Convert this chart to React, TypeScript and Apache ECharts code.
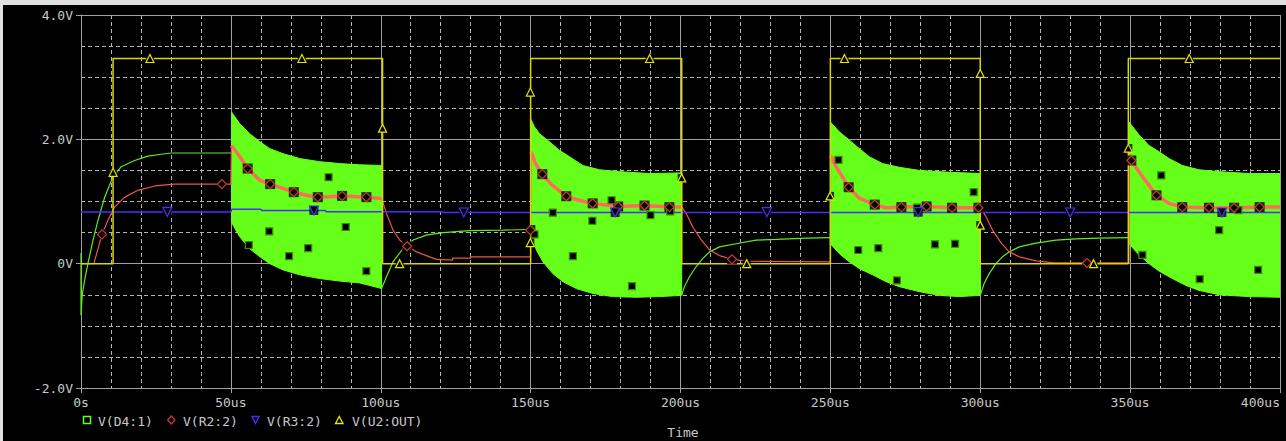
import React, { useEffect, useRef } from 'react';
import * as echarts from 'echarts';

// ---------- tick labels ----------
const xTickLabels = ['0s', '50us', '100us', '150us', '200us', '250us', '300us', '350us', '400us'];
const yTickValues = [-2, 0, 2, 4];
const yTickLabels = ['-2.0V', '0V', '2.0V', '4.0V'];
const legendNames = ['V(D4:1)', 'V(R2:2)', 'V(R3:2)', 'V(U2:OUT)'];

// ---------- V(U2:OUT) ----------
const u2Out: number[][] = [
  [0, 0], [10.7, 0], [10.7, 3.3], [100.6, 3.3], [100.6, 0], [150, 0], [150, 3.3], [200.4, 3.3],
  [200.4, 0], [250, 0], [250, 3.3], [300, 3.3], [300, 0], [349.4, 0], [349.4, 3.3], [400, 3.3],
];
const u2Marks: number[][] = [
  [10.7, 1.47], [23, 3.3], [73.7, 3.3], [100.6, 2.18], [106.3, 0], [149.9, 2.76], [149.9, 0.34],
  [189.7, 3.3], [200.4, 1.38], [222.1, 0], [249.9, 1.09], [254.7, 3.3], [300, 3.06], [300, 0.62],
  [337.8, 0], [349.4, 1.86], [369.7, 3.3],
];

// ---------- V(R3:2) ----------
const r3: number[][] = [
  [0, 0.833], [50, 0.833], [50.3, 0.876], [60, 0.876], [60.3, 0.855], [81.5, 0.855], [81.8, 0.836],
  [120.5, 0.836], [120.8, 0.823], [400, 0.823],
];
const r3Marks: number[][] = [
  [28.8, 0.833], [77.7, 0.855], [127.7, 0.823], [178.2, 0.823], [228.8, 0.828], [279.3, 0.828],
  [330, 0.823], [380.6, 0.823],
];

// ---------- V(R2:2) ----------
const r2Rise1: number[][] = [
  [0, 0], [4.3, 0], [7, 0.47], [9, 0.7], [11.2, 0.91], [14.6, 1.07], [19, 1.18], [24.6, 1.25],
  [31.2, 1.28], [50, 1.28], [50.2, 1.9],
];
const r2Band1: number[][] = [
  [50.2, 1.9], [53, 1.72], [55.6, 1.53], [59.7, 1.34], [63.1, 1.28], [67.4, 1.21], [71, 1.15],
  [75.2, 1.1], [79, 1.07], [87.4, 1.09], [95.2, 1.07], [100.3, 1.05],
];
const r2Decay1: number[][] = [
  [100.3, 1.05], [101.9, 0.81], [104.1, 0.54], [106.3, 0.38], [108.8, 0.28], [111.9, 0.19],
  [115.2, 0.13], [118.6, 0.07], [124, 0.056], [124, 0.09], [130, 0.09], [130, 0.11], [150, 0.11],
  [150.2, 1.8],
];
const r2Band2: number[][] = [
  [150.2, 1.8], [151.5, 1.62], [153.9, 1.44], [157, 1.27], [161.9, 1.085], [166, 1.02],
  [170.7, 0.97], [179.2, 0.92], [188, 0.935], [196.3, 0.91], [200.4, 0.91],
];
const r2Decay2: number[][] = [
  [200.4, 0.91], [202, 0.8], [204.1, 0.59], [207, 0.38], [209.7, 0.22], [213, 0.13], [217.2, 0.07],
  [222, 0.04], [250, 0.03], [250.1, 1.74],
];
const r2Band3: number[][] = [
  [250.1, 1.74], [251.9, 1.56], [256.1, 1.23], [259.7, 1.05], [264.8, 0.95], [268.6, 0.9],
  [273.7, 0.91], [282.1, 0.92], [290.6, 0.9], [300, 0.9],
];
const r2Decay3: number[][] = [
  [300, 0.9], [302, 0.75], [304.1, 0.54], [307, 0.33], [309.7, 0.19], [313, 0.11], [318.6, 0.045],
  [324.7, 0.013], [349.6, 0.013], [349.8, 1.76],
];
const r2Band4: number[][] = [
  [349.8, 1.76], [350.4, 1.66], [354.1, 1.4], [358.8, 1.1], [363, 0.97], [367.4, 0.91],
  [376.3, 0.9], [384.7, 0.9], [393.2, 0.91], [400, 0.91],
];
const r2Marks: number[][] = [
  [7, 0.47], [47, 1.28], [55.6, 1.53], [63.1, 1.28], [71, 1.15], [79, 1.07], [87.1, 1.09],
  [95.2, 1.07], [108.8, 0.28], [149.9, 0.54], [153.9, 1.44], [161.9, 1.085], [170.7, 0.97],
  [179.2, 0.92], [188, 0.935], [196.3, 0.91], [217.2, 0.07], [256.1, 1.23], [264.8, 0.95],
  [273.7, 0.91], [282.1, 0.92], [290.6, 0.9], [299.4, 0.9], [335.6, 0.013], [350.4, 1.66],
  [358.8, 1.1], [367.4, 0.91], [376.3, 0.9], [384.7, 0.9], [393.2, 0.91],
];

// ---------- V(D4:1) ----------
const d4Seg1: number[][] = [
  [0, 0.17], [0, -0.83], [0.4, -0.5], [1.2, -0.27], [2.3, 0], [4, 0.38], [5.7, 0.7], [7.9, 1.07],
  [10.7, 1.4], [13.4, 1.56], [17.9, 1.66], [22.3, 1.73], [26.8, 1.76], [30.1, 1.78], [50.2, 1.78],
];
const d4Seg2: number[][] = [
  [100.3, -0.4], [101.9, -0.21], [104.1, 0.03], [107.4, 0.24], [110.8, 0.38], [115.2, 0.46],
  [120.8, 0.5], [129.7, 0.53], [140.8, 0.54], [150, 0.55],
];
const d4Seg3: number[][] = [
  [200.4, -0.51], [201.3, -0.37], [203, -0.21], [205.2, -0.05], [207.4, 0.08], [209.7, 0.19],
  [213, 0.27], [218.6, 0.32], [225.2, 0.38], [231.9, 0.39], [242.4, 0.41], [250, 0.42],
];
const d4Seg4: number[][] = [
  [300, -0.51], [301.3, -0.32], [303, -0.16], [305.2, 0], [307.4, 0.11], [309.7, 0.19], [313, 0.27],
  [318.6, 0.33], [325.2, 0.38], [331.9, 0.4], [339.7, 0.41], [349.6, 0.42],
];
// oscillation envelopes (upper / lower)
const d4Band1Upper: number[][] = [
  [50.2, 2.44], [53, 2.25], [56.3, 2.09], [59.7, 1.96], [63, 1.85], [67.4, 1.77], [73, 1.69],
  [79.7, 1.64], [86.3, 1.61], [93, 1.59], [100.3, 1.58],
];
const d4Band1Lower: number[][] = [
  [50.2, 0.67], [51.3, 0.57], [53, 0.43], [56.3, 0.24], [59.7, 0.11], [63, 0], [67.4, -0.1],
  [73, -0.18], [79.7, -0.24], [86.3, -0.28], [93, -0.31], [100.3, -0.4],
];
const d4Band2Upper: number[][] = [
  [150, 2.33], [151.3, 2.2], [153, 2.09], [156.3, 1.96], [159.7, 1.82], [163, 1.72], [167.4, 1.58],
  [173, 1.51], [179.7, 1.48], [189.7, 1.45], [200.4, 1.46],
];
const d4Band2Lower: number[][] = [
  [150, 0.45], [150.6, 0.43], [151.9, 0.22], [154.1, 0.03], [157.4, -0.16], [160.8, -0.29],
  [165.2, -0.4], [170.8, -0.48], [177.4, -0.53], [185.2, -0.54], [193, -0.53], [200.4, -0.51],
];
const d4Band3Upper: number[][] = [
  [250, 2.28], [253, 2.12], [256.3, 1.99], [259.7, 1.85], [263, 1.72], [267.4, 1.61], [273, 1.55],
  [279.7, 1.5], [289.7, 1.47], [300, 1.45],
];
const d4Band3Lower: number[][] = [
  [250, 0.32], [253, 0.16], [256.3, 0.03], [259.7, -0.08], [264.1, -0.18], [268.6, -0.29],
  [273, -0.37], [279.7, -0.45], [286.3, -0.51], [293, -0.53], [300, -0.51],
];
const d4Band4Upper: number[][] = [
  [349.6, 2.28], [353, 2.07], [356.3, 1.9], [359.7, 1.8], [363, 1.69], [367.4, 1.58], [373, 1.51],
  [379.7, 1.48], [389.7, 1.45], [400, 1.45],
];
const d4Band4Lower: number[][] = [
  [349.6, 0.32], [353, 0.14], [356.3, 0], [359.7, -0.12], [364.1, -0.24], [368.6, -0.35],
  [373, -0.43], [379.7, -0.5], [389.7, -0.53], [400, -0.54],
];
const d4Marks: number[][] = [
  [56, 0.3], [62.8, 0.52], [69.4, 0.12], [75.8, 0.25], [82.6, 1.39], [88.3, 0.59], [95.2, -0.12],
  [151.3, 0.47], [157.4, 0.82], [164.1, 0.12], [170.6, 0.69], [177, 1.02], [183.8, -0.36],
  [190, 0.78], [196.6, 0.84],
  [252.7, 1.67], [259.3, 0.22], [266, 0.25], [272.2, -0.27], [278.9, 0.9], [284.9, 0.31],
  [291.6, 0.32], [297.8, 1.15],
  [354.1, 0.14], [360.4, 1.42], [373.2, -0.25], [379.7, 0.54], [386.1, 0.86], [392.7, -0.1],
];

const bands = [
  { upper: d4Band1Upper, lower: d4Band1Lower },
  { upper: d4Band2Upper, lower: d4Band2Lower },
  { upper: d4Band3Upper, lower: d4Band3Lower },
  { upper: d4Band4Upper, lower: d4Band4Lower },
];

// ---------- styles ----------
const GREEN = '#66ff1a';
const GREEN_LINE = '#62ec1c';
const RED_THIN = '#e8564e';
const RED_THICK = '#ff6a5a';
const RED_MARK = '#cc3a3a';
const BLUE = '#4a2cff';
const YELLOW = '#d8d800';
const YELLOW_MARK = '#e6e600';
const GRID = '#a0a0a0';
const DASH = '#b4b4b4';
const TEXT = '#c8c8c8';
const FONT = '"DejaVu Sans Mono", "Liberation Mono", monospace';

const lineSeries = (name: string, data: number[][], color: string, width: number, z: number) => ({
  type: 'line',
  name,
  data,
  symbol: 'none',
  showSymbol: false,
  silent: true,
  lineStyle: { color, width },
  itemStyle: { color },
  z,
});

const markSeries = (name: string, data: number[][], symbol: string, size: number, border: string, rotate = 0, z = 10) => ({
  type: 'scatter',
  name,
  data,
  symbol,
  symbolSize: size,
  symbolRotate: rotate,
  silent: true,
  itemStyle: { color: '#000', borderColor: border, borderWidth: 1.2, opacity: 1 },
  z,
});

const bgSeries = (name: string, data: number[][], size: number) => ({
  type: 'scatter',
  name,
  data,
  symbol: 'rect',
  symbolSize: size,
  silent: true,
  itemStyle: { color: '#000' },
  z: 9,
});

export default function App() {
  const ref = useRef<HTMLDivElement>(null);

  useEffect(() => {
    if (!ref.current) return;
    const chart = echarts.init(ref.current, undefined, { renderer: 'svg' });

    const legendY = 415;
    const option: any = {
      animation: false,
      backgroundColor: '#000',
      grid: { left: 78, right: 6, top: 10, bottom: 53, containLabel: false, outerBoundsMode: 'none' },
      xAxis: {
        type: 'value',
        min: 0,
        max: 400,
        interval: 50,
        axisLine: { show: true, onZero: false, lineStyle: { color: GRID, width: 1 } },
        axisTick: { show: true, length: 5, lineStyle: { color: GRID } },
        minorTick: { show: false, splitNumber: 5 },
        minorSplitLine: { show: true, lineStyle: { color: DASH, width: 1, type: [4, 3] } },
        splitLine: { show: true, lineStyle: { color: GRID, width: 1 } },
        axisLabel: {
          color: TEXT,
          fontFamily: FONT,
          fontSize: 13,
          margin: 8,
          alignMaxLabel: 'right',
          formatter: (v: number) => xTickLabels[Math.round(v / 50)] ?? '',
        },
      },
      yAxis: {
        type: 'value',
        min: -2,
        max: 4,
        interval: 2,
        axisLine: { show: true, onZero: false, lineStyle: { color: GRID, width: 1 } },
        axisTick: { show: true, length: 5, lineStyle: { color: GRID } },
        minorTick: { show: false, splitNumber: 4 },
        minorSplitLine: { show: true, lineStyle: { color: DASH, width: 1, type: [4, 3] } },
        splitLine: { show: true, lineStyle: { color: GRID, width: 1 } },
        axisLabel: {
          color: TEXT,
          fontFamily: FONT,
          fontSize: 13,
          margin: 8,
          formatter: (v: number) => {
            const i = yTickValues.indexOf(Math.round(v));
            return i >= 0 ? yTickLabels[i] : '';
          },
        },
      },
      series: [
        {
          type: 'custom',
          name: 'd4-band',
          silent: true,
          clip: true,
          z: 2,
          data: bands.map((_, i) => [i]),
          renderItem: (params: any, api: any) => {
            const b = bands[params.dataIndex];
            const pts = [...b.upper, ...b.lower.slice().reverse()].map((p) => api.coord(p));
            return { type: 'polygon', shape: { points: pts }, style: { fill: GREEN, stroke: GREEN, lineWidth: 1 } };
          },
        },
        lineSeries('d4-1', d4Seg1, GREEN_LINE, 1.2, 3),
        lineSeries('d4-2', d4Seg2, GREEN_LINE, 1.2, 3),
        lineSeries('d4-3', d4Seg3, GREEN_LINE, 1.2, 3),
        lineSeries('d4-4', d4Seg4, GREEN_LINE, 1.2, 3),
        lineSeries('r2-rise', r2Rise1, RED_THIN, 1.2, 4),
        lineSeries('r2-dec1', r2Decay1, RED_THIN, 1.2, 4),
        lineSeries('r2-dec2', r2Decay2, RED_THIN, 1.2, 4),
        lineSeries('r2-dec3', r2Decay3, RED_THIN, 1.2, 4),
        lineSeries('r2-b1', r2Band1, RED_THICK, 3.5, 4),
        lineSeries('r2-b2', r2Band2, RED_THICK, 3.5, 4),
        lineSeries('r2-b3', r2Band3, RED_THICK, 3.5, 4),
        lineSeries('r2-b4', r2Band4, RED_THICK, 3.5, 4),
        lineSeries('r3', r3, BLUE, 1.5, 5),
        lineSeries('u2', u2Out, YELLOW, 1.5, 6),
        bgSeries('r2-bg', r2Marks, 10),
        bgSeries('r3-bg', r3Marks, 9),
        bgSeries('u2-bg', u2Marks, 8),
        markSeries(legendNames[0], d4Marks, 'rect', 7, '#3a9000'),
        markSeries(legendNames[1], r2Marks, 'diamond', 9, RED_MARK),
        markSeries(legendNames[2], r3Marks, 'triangle', 9, BLUE, 180),
        markSeries(legendNames[3], u2Marks, 'triangle', 8, YELLOW_MARK),
      ],
      graphic: [
        { type: 'rect', shape: { x: 80.5, y: legendY - 3.5, width: 7, height: 7 }, style: { fill: 'none', stroke: GREEN, lineWidth: 1.5 } },
        { type: 'text', x: 95, y: legendY + 1, style: { text: legendNames[0], fill: TEXT, font: `13px ${FONT}`, verticalAlign: 'middle' } },
        { type: 'polygon', shape: { points: [[168.3, legendY - 4], [172, legendY], [168.3, legendY + 4], [164.6, legendY]] }, style: { fill: 'none', stroke: RED_MARK, lineWidth: 1.2 } },
        { type: 'text', x: 180, y: legendY + 1, style: { text: legendNames[1], fill: TEXT, font: `13px ${FONT}`, verticalAlign: 'middle' } },
        { type: 'polygon', shape: { points: [[249, legendY - 3.5], [256, legendY - 3.5], [252.5, legendY + 3.5]] }, style: { fill: 'none', stroke: BLUE, lineWidth: 1.3 } },
        { type: 'text', x: 264, y: legendY + 1, style: { text: legendNames[2], fill: TEXT, font: `13px ${FONT}`, verticalAlign: 'middle' } },
        { type: 'polygon', shape: { points: [[332.5, legendY + 3.5], [340, legendY + 3.5], [336.2, legendY - 3.5]] }, style: { fill: 'none', stroke: YELLOW_MARK, lineWidth: 1.3 } },
        { type: 'text', x: 349, y: legendY + 1, style: { text: legendNames[3], fill: TEXT, font: `13px ${FONT}`, verticalAlign: 'middle' } },
        { type: 'text', x: 680, y: 427, style: { text: 'Time', fill: TEXT, font: `13px ${FONT}`, align: 'center', verticalAlign: 'middle' } },
      ],
    };

    chart.setOption(option);
    return () => chart.dispose();
  }, []);

  return (
    <div style={{ position: 'fixed', left: 0, top: 0, width: 1286, height: 441, background: '#e0e0e0', overflow: 'hidden' }}>
      <div ref={ref} style={{ position: 'absolute', left: 3, top: 5, width: 1283, height: 436, background: '#000' }} />
    </div>
  );
}
